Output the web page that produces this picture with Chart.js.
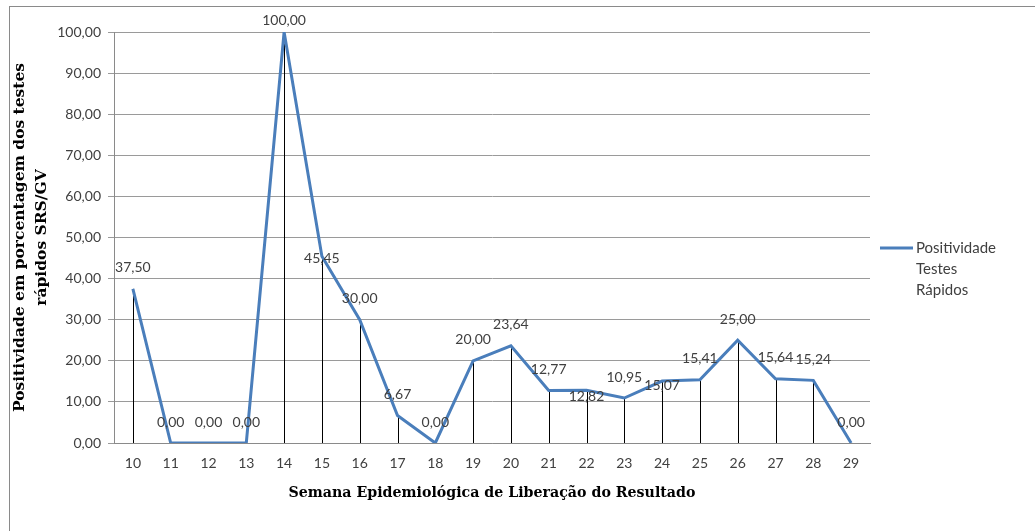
<!DOCTYPE html>
<html>
<head>
<meta charset="utf-8">
<script src="https://cdn.jsdelivr.net/npm/chart.js@4.4.0/dist/chart.umd.min.js"></script>
<style>
  html, body { margin: 0; padding: 0; background: #fff; }
  #wrap { width: 1035px; height: 531px; position: relative; }
</style>
</head>
<body>
<div id="wrap"><canvas id="c" width="1035" height="531"></canvas></div>
<script>
const categories = ['10','11','12','13','14','15','16','17','18','19','20','21','22','23','24','25','26','27','28','29'];
const positividade = [37.50, 0.00, 0.00, 0.00, 100.00, 45.45, 30.00, 6.67, 0.00, 20.00, 23.64, 12.77, 12.82, 10.95, 15.07, 15.41, 25.00, 15.64, 15.24, 0.00];
const seriesLabel = 'Positividade Testes Rápidos';
const yTicks = [0, 10, 20, 30, 40, 50, 60, 70, 80, 90, 100];

const fmt = v => v.toFixed(2).replace('.', ',');
const LINE = '#4a7ebb';
const TXT = '#404040';
const TICKFONT = "Lato, 'Open Sans', sans-serif";

const dropAndLabels = {
  id: 'dropAndLabels',
  beforeDraw(chart) {
    const ctx = chart.ctx;
    ctx.save();
    ctx.strokeStyle = '#8a8a8a';
    ctx.lineWidth = 1;
    ctx.strokeRect(9.5, 6.5, 1200, 700);
    ctx.restore();
  },
  beforeDatasetsDraw(chart) {
    const ctx = chart.ctx;
    const meta = chart.getDatasetMeta(0);
    const bottom = chart.scales.y.getPixelForValue(0);
    ctx.save();
    ctx.strokeStyle = '#000';
    ctx.lineWidth = 1;
    meta.data.forEach(pt => {
      const x = Math.round(pt.x) + 0.5;
      ctx.beginPath();
      ctx.moveTo(x, pt.y);
      ctx.lineTo(x, bottom);
      ctx.stroke();
    });
    ctx.restore();
  },
  afterDatasetsDraw(chart, args, opts) {
    const ctx = chart.ctx;
    const meta = chart.getDatasetMeta(0);
    const vals = chart.data.datasets[0].data;
    ctx.save();
    ctx.font = "14px " + TICKFONT;
    ctx.fillStyle = TXT;
    ctx.textAlign = 'center';
    ctx.textBaseline = 'middle';
    meta.data.forEach((pt, i) => {
      const dy = opts.shift[i] !== undefined ? opts.shift[i] : -21;
      ctx.fillText(fmt(vals[i]), pt.x, pt.y + dy);
    });
    ctx.restore();
  },
  afterDraw(chart) {
    const ctx = chart.ctx;
    const ds = chart.data.datasets[0];
    ctx.save();
    ctx.strokeStyle = ds.borderColor;
    ctx.lineWidth = 3;
    ctx.beginPath();
    ctx.moveTo(880, 248);
    ctx.lineTo(913, 248);
    ctx.stroke();
    ctx.font = "15px " + TICKFONT;
    ctx.fillStyle = TXT;
    ctx.textAlign = 'left';
    ctx.textBaseline = 'middle';
    ds.label.split(' ').forEach((w, i) => ctx.fillText(w, 916, 248 + i * 21));
    ctx.restore();
  }
};

new Chart(document.getElementById('c'), {
  type: 'line',
  data: {
    labels: categories,
    datasets: [{
      label: seriesLabel,
      data: positividade,
      borderColor: LINE,
      backgroundColor: LINE,
      borderWidth: 3,
      pointRadius: 0,
      tension: 0,
      fill: false
    }]
  },
  options: {
    responsive: false,
    animation: false,
    layout: { padding: { left: 9, top: 32, right: 165, bottom: 25 } },
    plugins: {
      legend: { display: false },
      tooltip: { enabled: false },
      dropAndLabels: { shift: { 4: -12, 5: 2, 12: 6, 14: 4 } }
    },
    scales: {
      x: {
        offset: true,
        grid: { display: false, drawTicks: false },
        border: { display: true, color: '#8a8a8a', width: 1 },
        ticks: { color: TXT, font: { family: TICKFONT, size: 14 }, padding: 12, maxRotation: 0, autoSkip: false },
        title: {
          display: true,
          text: 'Semana Epidemiológica de Liberação do Resultado',
          color: '#000',
          font: { family: "'DejaVu Serif', serif", size: 14.2, weight: 'bold' },
          padding: { top: 4, bottom: 4 }
        },
        afterFit(s) { s.height = 63; }
      },
      y: {
        min: 0, max: 100,
        afterBuildTicks(s) { s.ticks = yTicks.map(v => ({ value: v })); },
        grid: { color: '#9a9a9a', lineWidth: 1, tickLength: 6, drawTicks: true },
        border: { display: true, color: '#8a8a8a', width: 1 },
        ticks: { color: TXT, font: { family: TICKFONT, size: 14 }, padding: 7, callback: v => fmt(v) },
        title: {
          display: true,
          text: ['Positividade em porcentagem dos testes', 'rápidos SRS/GV'],
          color: '#000',
          font: { family: "'DejaVu Serif', serif", size: 15.5, weight: 'bold', lineHeight: 1.42 },
          padding: { top: 0, bottom: 0 }
        },
        afterFit(s) { s.width = 105; }
      }
    }
  },
  plugins: [dropAndLabels]
});
</script>
</body>
</html>
